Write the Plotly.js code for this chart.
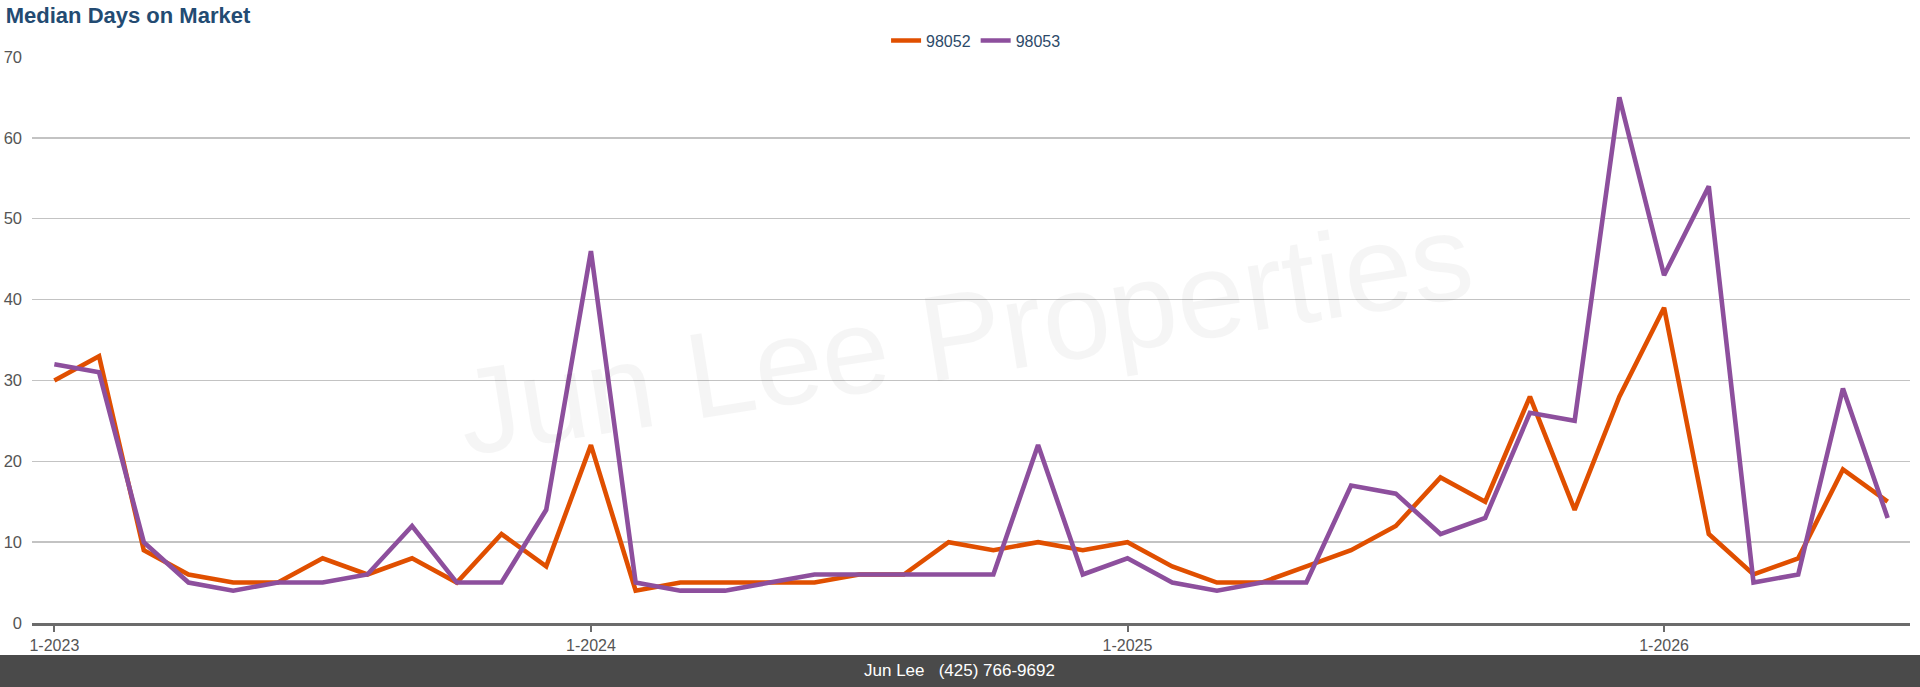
<!DOCTYPE html>
<html>
<head>
<meta charset="utf-8">
<script src="https://cdn.plot.ly/plotly-3.0.1.min.js"></script>
<style>
  html, body { margin: 0; padding: 0; background: #fff; }
  #chart { width: 1920px; height: 687px; }
</style>
</head>
<body>
<div id="chart"></div>
<script>
const months = [
  "1-2023","2-2023","3-2023","4-2023","5-2023","6-2023","7-2023","8-2023","9-2023","10-2023","11-2023","12-2023",
  "1-2024","2-2024","3-2024","4-2024","5-2024","6-2024","7-2024","8-2024","9-2024","10-2024","11-2024","12-2024",
  "1-2025","2-2025","3-2025","4-2025","5-2025","6-2025","7-2025","8-2025","9-2025","10-2025","11-2025","12-2025",
  "1-2026","2-2026","3-2026","4-2026","5-2026","6-2026"
];
const zip98052 = [30,33,9,6,5,5,8,6,8,5,11,7, 22,4,5,5,5,5,6,6,10,9,10,9, 10,7,5,5,7,9,12,18,15,28,14,28, 39,11,6,8,19,15];
const zip98053 = [32,31,10,5,4,5,5,6,12,5,5,14, 46,5,4,4,5,6,6,6,6,6,22,6, 8,5,4,5,5,17,16,11,13,26,25,65, 43,54,5,6,29,13];
const seriesNames = ["98052", "98053"];
const tickLabels = ["1-2023", "1-2024", "1-2025", "1-2026"];
const yTicks = [0, 10, 20, 30, 40, 50, 60, 70];

const FONT = "Liberation Sans, Arial, Helvetica, sans-serif";

const traces = [
  { x: months, y: zip98052, name: seriesNames[0], type: "scatter", mode: "lines",
    line: { color: "#e04f00", width: 4.6 } },
  { x: months, y: zip98053, name: seriesNames[1], type: "scatter", mode: "lines",
    line: { color: "#8d4f9d", width: 4.6 } }
];

const layout = {
  width: 1920, height: 687,
  margin: { l: 32, r: 10, t: 57, b: 64, pad: 0 },
  paper_bgcolor: "#ffffff", plot_bgcolor: "#ffffff",
  font: { family: FONT, color: "#555555", size: 16 },
  showlegend: true,
  hovermode: false,
  title: {
    text: "Median Days on Market",
    xref: "container", x: 0.003, xanchor: "left",
    yref: "container", y: 0.978, yanchor: "middle",
    font: { family: FONT, size: 22, color: "#234b72", weight: "bold" }
  },
  legend: {
    orientation: "h", x: 0.5027, xanchor: "center", y: 1.029, yanchor: "middle",
    font: { family: FONT, size: 16, color: "#2d4a69" },
    bgcolor: "rgba(0,0,0,0)"
  },
  xaxis: {
    type: "category",
    range: [-0.5, 41.5],
    tickmode: "array", tickvals: tickLabels, ticktext: tickLabels,
    showgrid: false, zeroline: false,
    showline: true, linecolor: "#6b6b6b", linewidth: 2.5,
    ticks: "outside", ticklen: 6, tickwidth: 2, tickcolor: "#6b6b6b",
    tickfont: { family: FONT, size: 16, color: "#555555" },
    fixedrange: true
  },
  yaxis: {
    range: [0, 70],
    tickmode: "array", tickvals: yTicks,
    showgrid: true, gridcolor: "#c3c3c3", gridwidth: 1.3,
    zeroline: false, showline: false, ticks: "",
    tickfont: { family: FONT, size: 16.5, color: "#555555" },
    ticklabelstandoff: 9,
    fixedrange: true
  },
  shapes: [
    { type: "rect", xref: "paper", yref: "paper", x0: -0.05, x1: 1.05, y0: -0.0565, y1: -0.12,
      fillcolor: "#4a4a4a", line: { width: 0 }, layer: "above" }
  ],
  annotations: [
    { text: "Jun Lee Properties", xref: "paper", yref: "paper", x: 0.497, y: 0.51,
      xanchor: "center", yanchor: "middle", showarrow: false, textangle: -9,
      font: { family: FONT, size: 122, color: "rgba(0,0,0,0.04)" } },
    { text: "Jun Lee&nbsp;&nbsp;&nbsp;(425) 766-9692", xref: "paper", yref: "paper",
      x: 0.4941, y: -0.0848, xanchor: "center", yanchor: "middle", showarrow: false,
      font: { family: FONT, size: 17, color: "#ffffff" } }
  ]
};

Plotly.newPlot("chart", traces, layout, { displayModeBar: false, staticPlot: true });
</script>
</body>
</html>
